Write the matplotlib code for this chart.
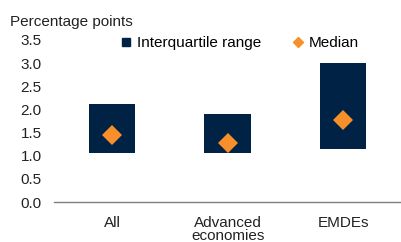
import matplotlib.pyplot as plt
from matplotlib.lines import Line2D

plt.rcParams['font.family'] = ['Liberation Sans', 'DejaVu Sans']

categories = ['All', 'Advanced\neconomies', 'EMDEs']
q25 = [1.06, 1.06, 1.14]
q75 = [2.12, 1.90, 3.00]
median = [1.45, 1.28, 1.77]

navy = '#002345'
orange = '#F7902A'

fig = plt.figure(figsize=(4.01, 2.42), dpi=100)
ax = fig.add_axes([0.135, 0.165, 0.865, 0.67])

x = range(len(categories))
heights = [hi - lo for lo, hi in zip(q25, q75)]
ax.bar(x, heights, bottom=q25, width=0.4, color=navy, zorder=2)
ax.plot(x, median, linestyle='none', marker='D', markersize=10.5,
        color=orange, markeredgewidth=0, zorder=3)

ax.set_xlim(-0.5, 2.5)
ax.set_ylim(0, 3.5)
ax.set_yticks([0, 0.5, 1.0, 1.5, 2.0, 2.5, 3.0, 3.5])
ax.set_yticklabels(['%.1f' % v for v in ax.get_yticks()])
ax.set_xticks(list(x))
ax.set_xticklabels(categories, linespacing=0.95)
ax.tick_params(axis='both', length=0, labelsize=11, colors='#222222')
ax.tick_params(axis='x', pad=10)
ax.tick_params(axis='y', pad=9)
for s in ['top', 'right', 'left']:
    ax.spines[s].set_visible(False)
ax.spines['bottom'].set_color('#7f7f7f')
ax.spines['bottom'].set_linewidth(1.0)

fig.text(0.025, 1 - 26 / 242, 'Percentage points', fontsize=11,
         color='#222222', va='baseline')

handles = [
    Line2D([], [], linestyle='none', marker='s', markersize=5.5, color=navy),
    Line2D([], [], linestyle='none', marker='D', markersize=5.5, color=orange),
]
fig.legend(handles, ['Interquartile range', 'Median'], loc='center',
           bbox_to_anchor=(0.597, 1 - 43 / 242), ncol=2, frameon=False,
           fontsize=11, handletextpad=0.3, columnspacing=2.0,
           handlelength=0.8)

fig.savefig('out.png', dpi=100)
